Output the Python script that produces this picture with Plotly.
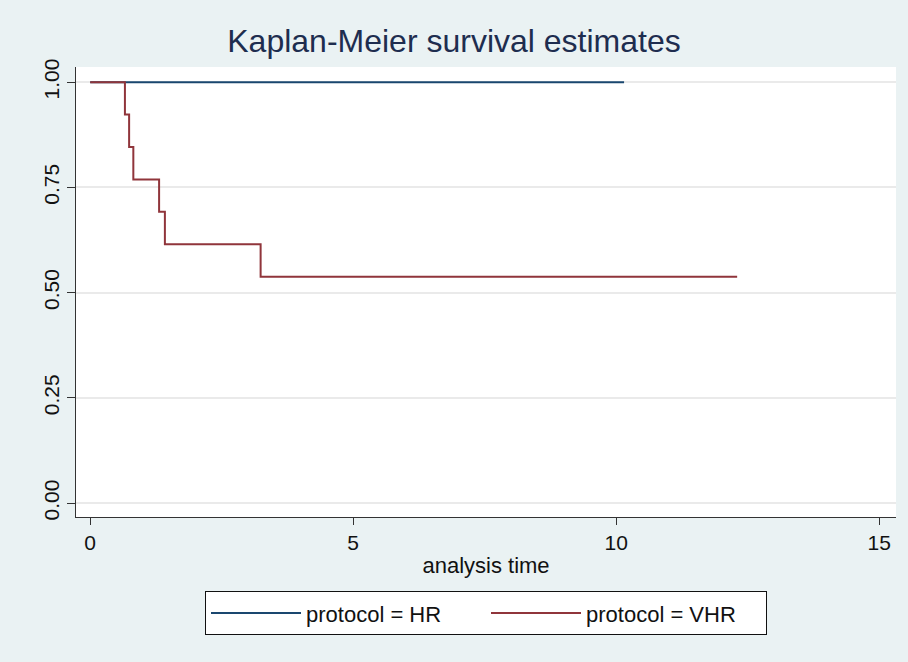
import plotly.graph_objects as go

# Data
hr_time = [0, 10.15]
hr_surv = [1.0, 1.0]
vhr_time = [0, 0.66, 0.74, 0.82, 1.31, 1.42, 3.24, 12.3]
vhr_surv = [1.0, 0.923, 0.846, 0.769, 0.692, 0.615, 0.538, 0.538]
x_ticks = [0, 5, 10, 15]
y_ticks = [0.0, 0.25, 0.5, 0.75, 1.0]
y_ticklabels = ["0.00", "0.25", "0.50", "0.75", "1.00"]

FONT = "Liberation Sans, Arial, sans-serif"

fig = go.Figure()
fig.add_trace(go.Scatter(x=hr_time, y=hr_surv, mode="lines", line_shape="hv",
                         line=dict(color="#1a476f", width=2), name="protocol = HR"))
fig.add_trace(go.Scatter(x=vhr_time, y=vhr_surv, mode="lines", line_shape="hv",
                         line=dict(color="#90353b", width=2), name="protocol = VHR"))

fig.update_layout(
    width=908, height=662,
    paper_bgcolor="#eaf2f3", plot_bgcolor="white",
    margin=dict(l=76, r=12, t=67, b=145),
    font=dict(family=FONT, size=20, color="#111111"),
    title=dict(text="Kaplan-Meier survival estimates", x=0.5, xanchor="center",
               y=1 - 41 / 662, yanchor="middle",
               font=dict(family=FONT, size=32, color="#1e2d4f")),
    showlegend=True,
    legend=dict(orientation="h", x=0.5, xanchor="center",
                y=-0.165, yanchor="top",
                bgcolor="white", bordercolor="#111111", borderwidth=1,
                font=dict(family=FONT, size=22, color="#111111"),
                itemwidth=90, entrywidth=175, entrywidthmode="pixels"),
)
fig.update_xaxes(range=[-0.27, 15.32], tickvals=x_ticks, ticks="outside", ticklen=7,
                 tickcolor="#333333", showline=True, linecolor="#333333", linewidth=1,
                 showgrid=False, zeroline=False,
                 title=dict(text="analysis time", standoff=4, font=dict(size=22)),
                 tickfont=dict(size=21))
fig.update_yaxes(range=[-0.033, 1.036], tickvals=y_ticks, ticktext=y_ticklabels,
                 tickangle=-90, ticks="outside", ticklen=8, tickcolor="#333333",
                 showline=True, linecolor="#333333", linewidth=1,
                 showgrid=True, gridcolor="#eaeaea", gridwidth=1.5, zeroline=False,
                 tickfont=dict(size=21))

fig.write_html("out.html")
